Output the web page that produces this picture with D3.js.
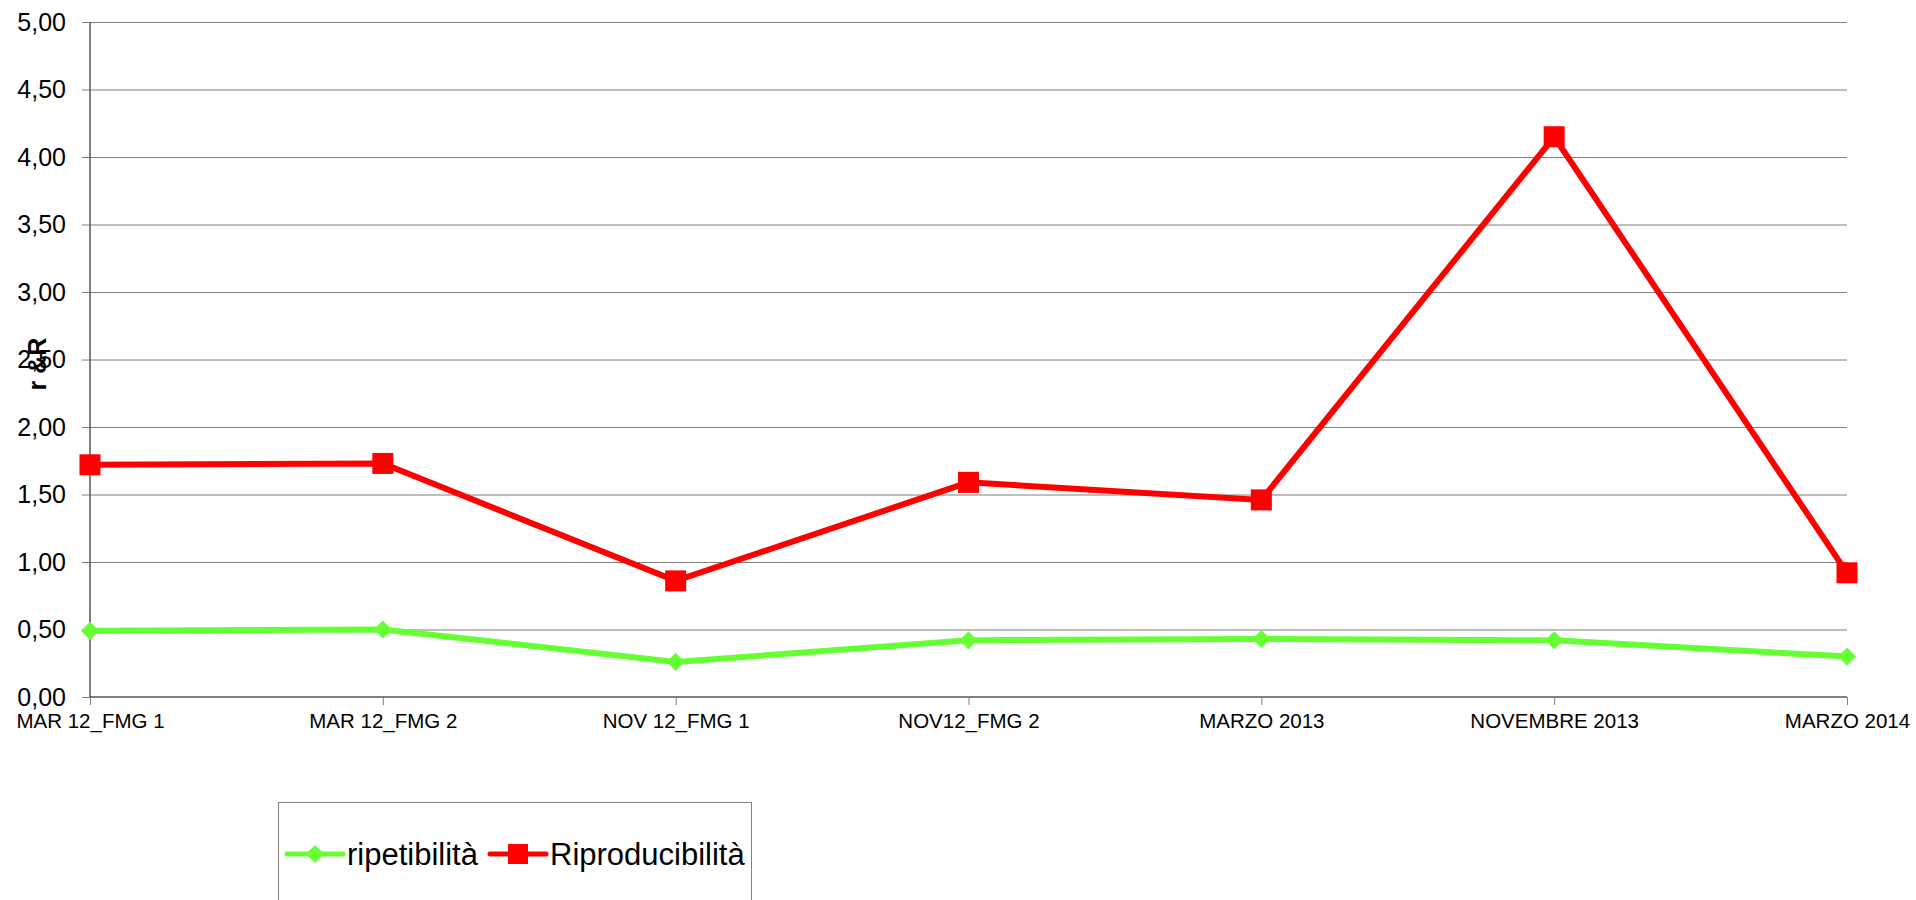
<!DOCTYPE html>
<html>
<head>
<meta charset="utf-8">
<script src="https://cdn.jsdelivr.net/npm/d3@7"></script>
<style>
  body { margin: 0; background: #fff; }
  #chart { width: 1916px; height: 900px; }
  text { font-family: "Liberation Sans", Arial, sans-serif; fill: #000; }
</style>
</head>
<body>
<div id="chart"><svg width="1916" height="900"></svg></div>
<script>
// categories and series values
const categories = ["MAR 12_FMG 1", "MAR 12_FMG 2", "NOV 12_FMG 1", "NOV12_FMG 2", "MARZO 2013", "NOVEMBRE 2013", "MARZO 2014"];
const ripetibilita = [0.49, 0.50, 0.26, 0.42, 0.43, 0.42, 0.30];
const riproducibilita = [1.72, 1.73, 0.86, 1.59, 1.46, 4.15, 0.92];
const yTicks = [0, 0.5, 1, 1.5, 2, 2.5, 3, 3.5, 4, 4.5, 5];
const seriesNames = ["ripetibilità", "Riproducibilità"];

/***** BASIC SETUP *****/
const svg = d3.select("#chart").select("svg");
const margin = {top: 22, left: 90, right: 69, bottom: 203};
const width = 1916, height = 900;
const plotWidth = width - margin.left - margin.right;
const plotHeight = height - margin.top - margin.bottom;

const itFormat = d3.formatLocale({decimal: ",", thousands: ".", grouping: [3], currency: ["", "€"]}).format(".2f");

/***** SCALES *****/
const xScale = d3.scalePoint()
    .domain(categories)
    .range([0, plotWidth]);
const yScale = d3.scaleLinear()
    .domain([0, 5])
    .range([plotHeight, 0]);

const plot = svg.append("g")
    .attr("transform", `translate(${margin.left}, ${margin.top})`);

/***** GRIDLINES *****/
plot.append("g")
    .attr("class", "yGrid")
    .call(d3.axisLeft(yScale).tickValues(yTicks.filter(d => d > 0)).tickSize(-plotWidth).tickFormat(""))
    .call(g => g.select(".domain").remove())
    .call(g => g.selectAll("line").attr("stroke", "#7f7f7f").attr("stroke-width", 1));

/***** AXES *****/
plot.append("g")
    .attr("class", "yAxis")
    .call(d3.axisLeft(yScale).tickValues(yTicks).tickSize(8).tickPadding(16).tickFormat(itFormat))
    .call(g => g.selectAll("text").style("font-size", "25px"))
    .call(g => g.select(".domain").attr("d", `M0,${plotHeight}V0`).attr("stroke", "#000"));

plot.append("g")
    .attr("class", "xAxis")
    .attr("transform", `translate(0, ${plotHeight})`)
    .call(d3.axisBottom(xScale).tickSize(8).tickPadding(8))
    .call(g => g.selectAll("text").style("font-size", "20.5px"))
    .call(g => g.select(".domain").attr("d", `M0,0H${plotWidth}`).attr("stroke", "#000"))
    .call(g => g.selectAll(".tick line").attr("stroke", "#7f7f7f"));

plot.selectAll(".yAxis .tick line").attr("stroke", "#7f7f7f");

// axis title
svg.append("text")
    .attr("transform", `translate(46, 364) rotate(-90)`)
    .attr("text-anchor", "middle")
    .style("font-size", "25px")
    .style("font-weight", "bold")
    .text("r &R");

/***** LINES & MARKERS *****/
const line = d3.line()
    .x((d, i) => xScale(categories[i]))
    .y(d => yScale(d));

plot.append("path")
    .datum(ripetibilita)
    .attr("fill", "none")
    .attr("stroke", "#66ff33")
    .attr("stroke-width", 6)
    .attr("d", line);

plot.append("path")
    .datum(riproducibilita)
    .attr("fill", "none")
    .attr("stroke", "#ff0000")
    .attr("stroke-width", 6)
    .attr("d", line);

const diamond = d3.symbol().type(d3.symbolDiamond2).size(210);

plot.selectAll(".diamond")
    .data(ripetibilita)
    .enter()
    .append("path")
    .attr("class", "diamond")
    .attr("d", diamond)
    .attr("transform", (d, i) => `translate(${xScale(categories[i])}, ${yScale(d)})`)
    .attr("fill", "#66ff33");

plot.selectAll(".square")
    .data(riproducibilita)
    .enter()
    .append("rect")
    .attr("class", "square")
    .attr("x", (d, i) => xScale(categories[i]) - 10.5)
    .attr("y", d => yScale(d) - 10.5)
    .attr("width", 21)
    .attr("height", 21)
    .attr("fill", "#ff0000");

/***** LEGEND *****/
const legend = svg.append("g");
legend.append("rect")
    .attr("x", 278.5)
    .attr("y", 802.5)
    .attr("width", 473)
    .attr("height", 140)
    .attr("fill", "none")
    .attr("stroke", "#7f7f7f");

const legendItems = [
    {name: seriesNames[0], color: "#66ff33", x: 287, shape: "diamond"},
    {name: seriesNames[1], color: "#ff0000", x: 490, shape: "square"}
];
const ly = 854;
legendItems.forEach(item => {
    legend.append("line")
        .attr("x1", item.x).attr("x2", item.x + 56)
        .attr("y1", ly).attr("y2", ly)
        .attr("stroke", item.color)
        .attr("stroke-width", 5)
        .attr("stroke-linecap", "round");
    if (item.shape === "diamond") {
        legend.append("path")
            .attr("d", diamond)
            .attr("transform", `translate(${item.x + 28}, ${ly})`)
            .attr("fill", item.color);
    } else {
        legend.append("rect")
            .attr("x", item.x + 18).attr("y", ly - 10)
            .attr("width", 20).attr("height", 20)
            .attr("fill", item.color);
    }
    legend.append("text")
        .attr("x", item.x + 60)
        .attr("y", 865)
        .style("font-size", "31px")
        .text(item.name);
});
</script>
</body>
</html>
